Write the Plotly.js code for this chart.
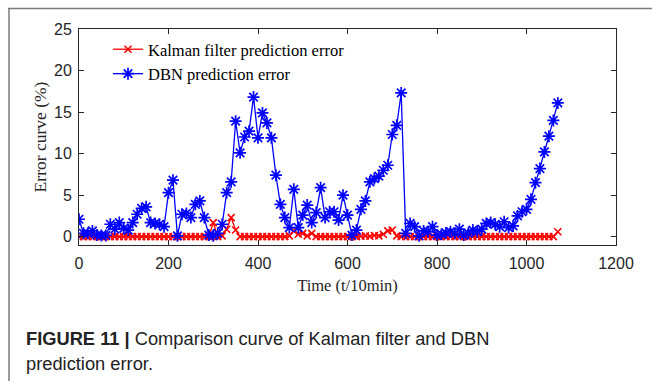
<!DOCTYPE html>
<html>
<head>
<meta charset="utf-8">
<script src="https://cdn.plot.ly/plotly-3.0.1.min.js"></script>
<style>
  html, body { margin: 0; padding: 0; background: #fff; }
  #chart { width: 652px; height: 381px; }
</style>
</head>
<body>
<div id="chart"></div>
<script>
// ---- data ----
const timeSteps = [
  0,10,20,30,40,50,60,70,80,90,
  100,110,120,130,140,150,160,170,180,190,
  200,210,220,230,240,250,260,270,280,290,
  300,310,320,330,340,350,360,370,380,390,
  400,410,420,430,440,450,460,470,480,490,
  500,510,520,530,540,550,560,570,580,590,
  600,610,620,630,640,650,660,670,680,690,
  700,710,720,730,740,750,760,770,780,790,
  800,810,820,830,840,850,860,870,880,890,
  900,910,920,930,940,950,960,970,980,990,
  1000,1010,1020,1030,1040,1050,1060,1070
];
const kalmanError = [
  0,0,0,0,0,0,0,0,0,0,
  0,0,0,0,0,0,0,0,0,0,
  0,0,0,0,0,0,0,0,0,0,
  1.7,0,0.1,0.9,2.3,0.8,0,0,0,0,
  0,0,0,0,0,0,0,0.1,0.7,0.3,
  0.4,0.1,0.4,0,0,0,0,0,0,0,
  0,0,0,0.05,0.1,0.05,0.15,0.1,0.3,0.7,
  0.8,0.1,0,0,0,0,0,0,0,0,
  0,0,0,0,0,0,0,0,0,0,
  0,0,0,0,0,0,0,0,0,0,
  0,0,0,0,0,0,0,0.6
];
const dbnError = [
  2.1,0.4,0.4,0.7,0.2,0.15,0.15,1.5,0.9,1.7,
  1.0,0.8,1.7,2.7,3.4,3.6,1.7,1.6,1.5,1.2,
  5.3,6.8,0.1,2.7,2.8,2.3,3.9,4.3,2.3,0.2,
  0.1,0.4,1.5,5.3,6.6,13.9,10.1,12.0,12.7,16.8,
  11.9,14.9,13.7,11.9,7.4,3.9,2.3,1.1,5.7,1.1,
  2.6,3.8,1.7,2.9,5.9,2.3,3.0,3.0,2.0,5.0,
  2.6,0.2,0.8,3.3,4.3,6.6,7.0,7.3,8.0,8.6,
  12.3,13.4,17.3,0.4,1.6,1.2,0.1,0.7,0.6,1.2,
  0.2,0.3,0.45,0.6,0.4,0.9,0.2,0.4,0.8,0.6,
  0.9,1.6,1.7,1.5,1.2,1.8,1.1,1.3,2.5,3.0,
  3.3,4.5,6.5,8.2,10.2,12.1,14.0,16.1
];
const seriesNames = ['Kalman filter prediction error', 'DBN prediction error'];
const xTicks = [0, 200, 400, 600, 800, 1000, 1200];
const yTicks = [0, 5, 10, 15, 20, 25];
const xTitle = 'Time (t/10min)';
const yTitle = 'Error curve (%)';
const captionBold = 'FIGURE 11 |';
const captionLine1 = ' Comparison curve of Kalman filter and DBN';
const captionLine2 = 'prediction error.';

// ---- layout helpers (pixel -> paper) ----
const W = 652, H = 381;
const M = {l: 79, r: 36, t: 29, b: 136};
const PW = W - M.l - M.r, PH = H - M.t - M.b;
const px = x => (x - M.l) / PW;
const py = y => (H - M.b - y) / PH;

const serif = 'Liberation Serif, Times New Roman, serif';
const sans = 'Liberation Sans, Arial, sans-serif';
const axisColor = '#262626';

const traces = [
  {
    x: timeSteps, y: kalmanError, name: seriesNames[0],
    type: 'scatter', mode: 'lines+markers',
    line: {color: '#ff0000', width: 1.3},
    marker: {symbol: 'x-thin-open', size: 7, color: '#ff0000', line: {color: '#ff0000', width: 1.6}}
  },
  {
    x: timeSteps, y: dbnError, name: seriesNames[1],
    type: 'scatter', mode: 'lines+markers',
    line: {color: '#0000ff', width: 1.3},
    marker: {symbol: 'asterisk-open', size: 10, color: '#0000ff', line: {color: '#0000ff', width: 1.7}}
  }
];

const axisCommon = {
  showline: true, mirror: 'ticks', linecolor: axisColor, linewidth: 1,
  ticks: 'inside', ticklen: 5, tickwidth: 1, tickcolor: axisColor,
  showgrid: false, zeroline: false,
  tickfont: {family: sans, size: 16, color: axisColor}
};

const layout = {
  width: W, height: H,
  margin: M,
  paper_bgcolor: '#fff', plot_bgcolor: '#fff',
  showlegend: true,
  legend: {
    x: px(108), y: py(32), xanchor: 'left', yanchor: 'top',
    bgcolor: 'rgba(0,0,0,0)', borderwidth: 0,
    font: {family: serif, size: 16.5, color: '#000'},
    tracegroupgap: 0
  },
  xaxis: Object.assign({}, axisCommon, {
    range: [0, 1200], tickvals: xTicks, ticktext: xTicks.map(String),
    ticklabelstandoff: 4,
    title: {text: xTitle, font: {family: serif, size: 16.5, color: axisColor}, standoff: 8}
  }),
  yaxis: Object.assign({}, axisCommon, {
    range: [-1, 25], tickvals: yTicks, ticktext: yTicks.map(String),
    ticklabelstandoff: 3,
    title: {text: yTitle, font: {family: serif, size: 17.5, color: axisColor}, standoff: 2}
  }),
  shapes: [
    {type: 'line', xref: 'paper', yref: 'paper', x0: px(8), x1: px(660), y0: py(8.5), y1: py(8.5),
     line: {color: '#7a7a7a', width: 1.5}},
    {type: 'line', xref: 'paper', yref: 'paper', x0: px(9), x1: px(9), y0: py(8), y1: py(390),
     line: {color: '#7a7a7a', width: 1.5}}
  ],
  annotations: [
    {xref: 'paper', yref: 'paper', x: px(24), y: py(338), xanchor: 'left', yanchor: 'middle',
     showarrow: false, align: 'left',
     text: '<b>' + captionBold + '</b>' + captionLine1,
     font: {family: sans, size: 18.3, color: '#222'}},
    {xref: 'paper', yref: 'paper', x: px(24), y: py(363), xanchor: 'left', yanchor: 'middle',
     showarrow: false, align: 'left',
     text: captionLine2,
     font: {family: sans, size: 18.3, color: '#222'}}
  ]
};

Plotly.newPlot('chart', traces, layout, {displayModeBar: false, staticPlot: true});
</script>
</body>
</html>
